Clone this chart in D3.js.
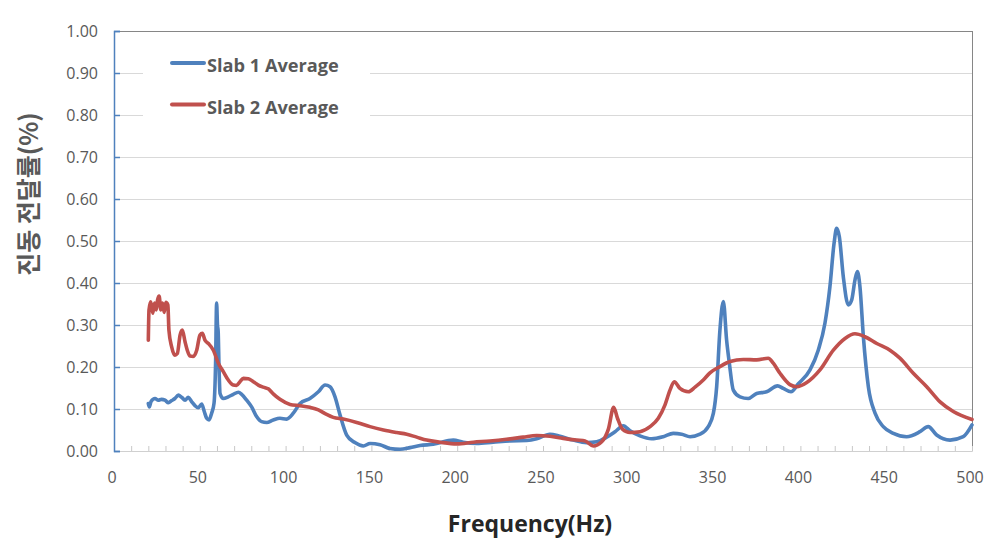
<!DOCTYPE html>
<html><head><meta charset="utf-8">
<script src="https://cdn.jsdelivr.net/npm/d3@7"></script>
<style>body{margin:0;background:#fff}svg{display:block}</style>
</head><body><svg id="c" width="1001" height="545"></svg>
<script>
const seriesNames = ["Slab 1 Average", "Slab 2 Average"];
const seriesColors = ["#4F81BD", "#C0504D"];
const yTicks = [0,0.1,0.2,0.3,0.4,0.5,0.6,0.7,0.8,0.9,1.0];
const xTicks = [0,50,100,150,200,250,300,350,400,450,500];
const xTitle = "Frequency(Hz)";
const yTitle = "진동 전달률(%)";

const slab1Freq = [20,20.6,21.6,23.9,25.8,27.7,29.7,31.7,33.6,35.5,37.5,39.4,41.4,43.3,45.3,47.2,49.1,51.1,52.6,54,55.4,56.9,58.3,59.2,59.8,60.3,60.7,61.2,61.8,63.7,66.6,69.5,72.5,74.4,77.3,80.2,83.1,86,89,92.8,96.7,100.6,104.5,108.4,114.2,119.1,123,125.9,128.8,131.7,135.6,140.4,145.3,149.2,155,160.8,166.7,172.5,178.3,186,197.7,203.5,211.4,221,230.8,240.5,246.3,254,259.9,267.6,275.4,281.3,287.1,292,296.8,300.7,306.5,313.3,320.1,325.9,330.8,335.7,341.5,346.3,349.3,351.2,353.1,355.1,357,358.6,360.9,364.8,369.6,374.5,380.3,386.7,390,394.5,398.8,405.6,410.4,414.3,417.2,419.6,421.1,422.7,425,427.9,429.9,431.8,433.2,434.7,436.7,439.6,443.5,448.3,454.2,461.9,469.7,474.5,479.4,487.2,494.9,500];
const slab1Values = [0.113,0.105,0.118,0.125,0.121,0.123,0.121,0.115,0.120,0.125,0.133,0.128,0.121,0.128,0.117,0.108,0.103,0.112,0.094,0.078,0.074,0.090,0.114,0.209,0.352,0.300,0.285,0.200,0.137,0.125,0.129,0.135,0.140,0.135,0.121,0.105,0.082,0.070,0.068,0.074,0.078,0.076,0.090,0.113,0.125,0.141,0.157,0.153,0.129,0.086,0.038,0.020,0.012,0.018,0.015,0.006,0.004,0.008,0.013,0.016,0.026,0.021,0.018,0.021,0.024,0.025,0.029,0.040,0.035,0.026,0.020,0.022,0.033,0.046,0.060,0.048,0.036,0.029,0.034,0.042,0.040,0.034,0.040,0.058,0.090,0.153,0.288,0.356,0.264,0.209,0.145,0.129,0.125,0.137,0.141,0.155,0.149,0.141,0.160,0.193,0.240,0.304,0.391,0.494,0.530,0.510,0.415,0.348,0.360,0.407,0.427,0.391,0.272,0.153,0.090,0.058,0.042,0.034,0.046,0.058,0.038,0.026,0.034,0.062];

const slab2Freq = [20,20.4,21.4,22.6,23.6,24.6,25.4,26.3,27.3,28.3,29.3,30.2,31.4,32,33.6,35.5,36.9,38.5,39.8,41.4,42.7,44.3,46.2,48.2,50.1,51.5,53,55,57.9,60.8,63.7,66.6,69.5,71.4,73.4,75.4,78.3,81.2,84.1,87,89.9,92.8,96.7,102.6,108.4,114.2,119.1,123.9,127.8,133.6,141.4,149.2,157,164.7,170.6,176.4,182.2,190,199.7,209.4,219.1,228.8,238.5,246.3,254.1,261.8,269.6,274.5,279.3,284.2,288.1,291.2,293.4,296.3,300.7,306.5,312.4,317.2,321.1,324,326.5,329.8,334.7,338.6,343.4,347.3,353.1,359,366.7,374.5,381.3,384.2,388.1,393.9,397.8,403.7,411.4,419.2,426,431.8,437.6,444.5,452.2,458,465.8,473.6,481.4,489.1,500];
const slab2Values = [0.264,0.336,0.355,0.328,0.352,0.336,0.360,0.369,0.336,0.352,0.330,0.354,0.348,0.288,0.248,0.228,0.232,0.276,0.288,0.260,0.240,0.226,0.225,0.240,0.276,0.280,0.264,0.256,0.240,0.209,0.189,0.169,0.157,0.156,0.165,0.173,0.172,0.165,0.157,0.152,0.148,0.136,0.123,0.111,0.108,0.104,0.098,0.087,0.080,0.076,0.068,0.058,0.050,0.044,0.040,0.033,0.026,0.021,0.017,0.021,0.024,0.028,0.033,0.037,0.035,0.030,0.026,0.024,0.012,0.022,0.052,0.104,0.078,0.052,0.044,0.046,0.058,0.078,0.110,0.145,0.165,0.149,0.141,0.152,0.169,0.186,0.201,0.213,0.218,0.217,0.221,0.209,0.185,0.158,0.153,0.163,0.193,0.240,0.268,0.279,0.272,0.256,0.240,0.221,0.185,0.153,0.117,0.094,0.075];

const svg = d3.select("#c");
const L = 114, R = 972, T = 31, B = 451;
const x = d3.scaleLinear().domain([0,500]).range([L,R]);
const y = d3.scaleLinear().domain([0,1]).range([B,T]);
const txt = "#595959";
const font = "'Open Sans', 'Noto Sans', sans-serif";

svg.append("g").selectAll("line").data(yTicks.filter(d=>d>0 && d<1)).join("line")
  .attr("x1",L).attr("x2",R).attr("y1",d=>y(d)).attr("y2",d=>y(d))
  .attr("stroke","#d9d9d9").attr("stroke-width",1).attr("shape-rendering","crispEdges");

svg.append("line").attr("x1",L).attr("x2",R).attr("y1",T).attr("y2",T).attr("stroke","#868686").attr("shape-rendering","crispEdges");
svg.append("line").attr("x1",R).attr("x2",R).attr("y1",T).attr("y2",B).attr("stroke","#868686").attr("shape-rendering","crispEdges");

const xAxis = d3.axisTop(x).tickValues(d3.range(0,501,10)).tickSize(5).tickFormat("");
const gx = svg.append("g").attr("transform",`translate(0,${B})`).call(xAxis);
gx.select(".domain").attr("stroke","#d0d0d0");
gx.selectAll(".tick line").attr("stroke","#c8c8c8");
svg.append("g").selectAll("text").data(xTicks).join("text")
  .attr("x",d=>x(d)-2).attr("y",483).attr("text-anchor","middle")
  .attr("font-family",font).attr("font-size",16).attr("fill",txt).text(d=>d);

const yAxis = d3.axisRight(y).tickValues(yTicks).tickSize(6).tickFormat("");
const gy = svg.append("g").attr("transform",`translate(${L},0)`).call(yAxis);
gy.select(".domain").attr("stroke","#4F81BD").attr("stroke-width",1.5);
gy.selectAll(".tick line").attr("stroke","#4F81BD").attr("stroke-width",1.5);
svg.append("g").selectAll("text").data(yTicks).join("text")
  .attr("x",98).attr("y",d=>y(d)+6).attr("text-anchor","end")
  .attr("font-family",font).attr("font-size",16).attr("fill",txt).text(d=>d.toFixed(2));

svg.append("rect").attr("x",143).attr("y",42).attr("width",227).attr("height",88).attr("fill","#fff");

const line = d3.line().x(d=>x(d[0])).y(d=>y(d[1])).curve(d3.curveMonotoneX);
const s1 = slab1Freq.map((f,i)=>[f,slab1Values[i]]);
const s2 = slab2Freq.map((f,i)=>[f,slab2Values[i]]);
[s1,s2].forEach((s,i)=>{
  svg.append("path").datum(s).attr("d",line).attr("fill","none")
    .attr("stroke",seriesColors[i]).attr("stroke-width",3.6)
    .attr("stroke-linejoin","round").attr("stroke-linecap","round");
});

seriesNames.forEach((n,i)=>{
  const ly = 63 + i*41.5;
  svg.append("line").attr("x1",172).attr("x2",204).attr("y1",ly).attr("y2",ly)
    .attr("stroke",seriesColors[i]).attr("stroke-width",4).attr("stroke-linecap","round");
  svg.append("text").attr("x",207).attr("y",ly+9).attr("font-family",font)
    .attr("font-weight",700).attr("font-size",18.2).attr("fill",txt).text(n);
});

svg.append("text").attr("x",530).attr("y",532).attr("text-anchor","middle")
  .attr("font-family",font).attr("font-weight",700).attr("font-size",23).attr("fill","#262626").text(xTitle);
svg.append("text").attr("transform","translate(38,194) rotate(-90)").attr("text-anchor","middle")
  .attr("font-family","'Noto Sans CJK KR', sans-serif").attr("font-weight",700).attr("font-size",25)
  .attr("fill",txt).text(yTitle);
</script></body></html>
